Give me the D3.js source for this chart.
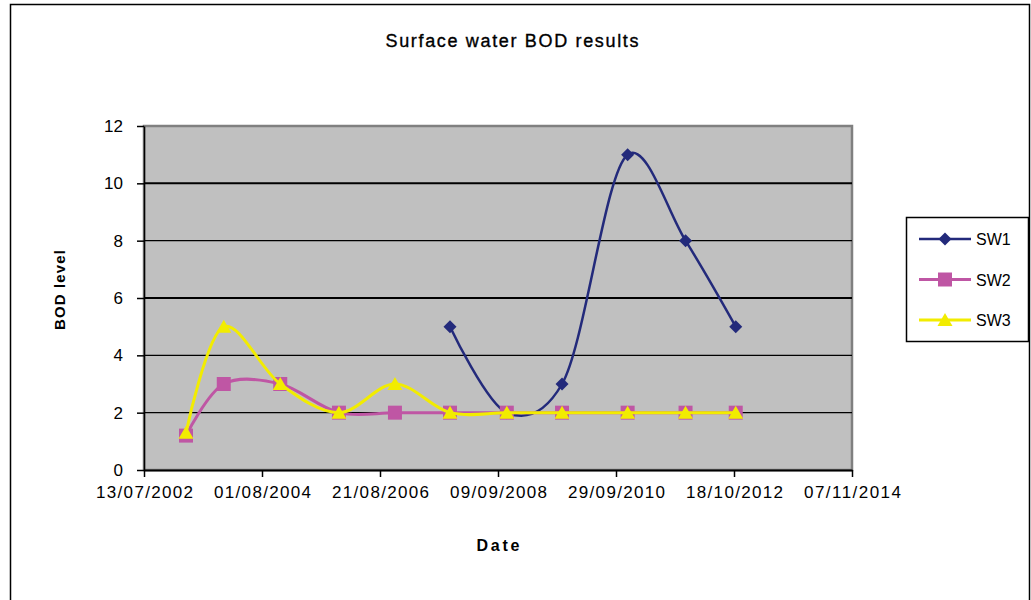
<!DOCTYPE html>
<html>
<head>
<meta charset="utf-8">
<script src="https://cdn.jsdelivr.net/npm/d3@7"></script>
<style>
  body { margin: 0; background: #fff; }
  text { font-family: "Liberation Sans", Arial, sans-serif; fill: #000; }
</style>
</head>
<body>
<div id="chart"></div>
<script>
// data
var dates = ["2003-04-06", "2003-12-02", "2004-11-25", "2005-12-03", "2006-11-24",
             "2007-11-09", "2008-11-04", "2009-10-21", "2010-12-12", "2011-12-15", "2012-10-29"];
var sw1 = [null, null, null, null, null, 5, 2, 3, 11, 8, 5];
var sw2 = [1.2, 3, 3, 2, 2, 2, 2, 2, 2, 2, 2];
var sw3 = [1.3, 5, 3, 2, 3, 2, 2, 2, 2, 2, 2];
var seriesNames = ["SW1", "SW2", "SW3"];
var xTicks = ["2002-07-13", "2004-08-01", "2006-08-21", "2008-09-09", "2010-09-29", "2012-10-18", "2014-11-07"];
var yTicks = [0, 2, 4, 6, 8, 10, 12];

var svgWidth = 1031;
var svgHeight = 600;
var margin = { top: 126, left: 144 };
var width = 708;
var height = 344;

var parse = d3.timeParse("%Y-%m-%d");
var fmt = d3.timeFormat("%d/%m/%Y");

var svg = d3.select("#chart").append("svg")
    .attr("width", svgWidth)
    .attr("height", svgHeight);

// chart area frame
svg.append("rect")
    .attr("x", 10.5).attr("y", 4.5)
    .attr("width", 1019).attr("height", 700)
    .attr("fill", "#fff")
    .attr("stroke", "#000")
    .attr("stroke-width", 1.5);

// title
svg.append("text")
    .attr("x", 512).attr("y", 47)
    .attr("text-anchor", "middle")
    .attr("font-size", "18px")
    .attr("stroke", "#000")
    .attr("stroke-width", 0.35)
    .attr("textLength", 253)
    .attr("lengthAdjust", "spacing")
    .text("Surface water BOD results");

var chartGroup = svg.append("g")
    .attr("transform", `translate(${margin.left}, ${margin.top})`);

var xScale = d3.scaleTime()
    .domain([parse(xTicks[0]), parse(xTicks[xTicks.length - 1])])
    .range([0, width]);

var yScale = d3.scaleLinear()
    .domain([0, 12])
    .range([height, 0]);

// plot area
chartGroup.append("rect")
    .attr("x", 0).attr("y", 0)
    .attr("width", width).attr("height", height)
    .attr("fill", "#c0c0c0")
    .attr("stroke", "#808080")
    .attr("stroke-width", 2.5);

// gridlines
chartGroup.selectAll(".grid")
    .data(yTicks.filter(d => d > 0 && d < 12))
    .enter()
    .append("line")
    .attr("x1", 0).attr("x2", width)
    .attr("y1", d => yScale(d)).attr("y2", d => yScale(d))
    .attr("stroke", "#000")
    .attr("stroke-width", d => (d == 6 || d == 10) ? 2 : 1.2);

// axes
var xAxis = d3.axisBottom(xScale)
    .tickValues(xTicks.map(parse))
    .tickFormat(fmt)
    .tickSize(7)
    .tickPadding(9)
    .tickSizeOuter(0);

var yAxis = d3.axisLeft(yScale)
    .tickValues(yTicks)
    .tickSize(7)
    .tickPadding(14)
    .tickSizeOuter(0);

var xg = chartGroup.append("g")
    .attr("transform", `translate(0, ${height})`)
    .call(xAxis);
xg.select(".domain").attr("stroke", "#000").attr("stroke-width", 2);
xg.selectAll(".tick line").attr("stroke", "#000").attr("stroke-width", 1.5);
xg.selectAll("text")
    .attr("font-size", "17px")
    .attr("font-family", "Liberation Sans, Arial, sans-serif")
    .attr("fill", "#000")
    .attr("textLength", 97)
    .attr("lengthAdjust", "spacing");

var yg = chartGroup.append("g").call(yAxis);
yg.select(".domain").attr("stroke", "#000").attr("stroke-width", 1.5);
yg.selectAll(".tick line").attr("stroke", "#000").attr("stroke-width", 1.5);
yg.selectAll("text")
    .attr("font-size", "17px")
    .attr("font-family", "Liberation Sans, Arial, sans-serif")
    .attr("fill", "#000");

// axis titles
svg.append("text")
    .attr("x", 498).attr("y", 551)
    .attr("text-anchor", "middle")
    .attr("font-size", "16px")
    .attr("font-weight", "bold")
    .attr("textLength", 43)
    .attr("lengthAdjust", "spacing")
    .text("Date");

svg.append("text")
    .attr("transform", "translate(65, 290) rotate(-90)")
    .attr("text-anchor", "middle")
    .attr("font-size", "15px")
    .attr("font-weight", "bold")
    .attr("textLength", 80)
    .attr("lengthAdjust", "spacing")
    .text("BOD level");

// series
var colors = ["#232a7b", "#bf56a4", "#f2ec00"];
var lineWidths = [2.5, 3, 3];
var allValues = [sw1, sw2, sw3];

var diamond = "M0,-6.5L6.5,0L0,6.5L-6.5,0Z";
var square = "M-7,-7H7V7H-7Z";
var triangle = "M0,-7L7.5,6H-7.5Z";
var shapes = [diamond, square, triangle];

// smoothed line, close to Excel's smoothing
var line = d3.line()
    .x(d => xScale(d.date))
    .y(d => yScale(d.v))
    .curve(d3.curveCatmullRom.alpha(0.2));

allValues.forEach(function(vals, i) {
    var pts = dates.map((d, j) => ({ date: parse(d), v: vals[j] }));
    var defined = pts.filter(p => p.v != null);

    chartGroup.append("path")
        .datum(defined)
        .attr("d", line)
        .attr("fill", "none")
        .attr("stroke", colors[i])
        .attr("stroke-width", lineWidths[i]);

    chartGroup.selectAll(".m" + i)
        .data(defined)
        .enter()
        .append("path")
        .classed("m" + i, true)
        .attr("transform", d => `translate(${xScale(d.date)}, ${yScale(d.v)})`)
        .attr("d", shapes[i])
        .attr("fill", colors[i]);
});

// legend
var legend = svg.append("g");
legend.append("rect")
    .attr("x", 906.5).attr("y", 217.5)
    .attr("width", 122).attr("height", 124)
    .attr("fill", "#fff")
    .attr("stroke", "#000")
    .attr("stroke-width", 1.5);

seriesNames.forEach(function(name, i) {
    var ly = 239 + i * 40.5;
    legend.append("line")
        .attr("x1", 919).attr("x2", 971)
        .attr("y1", ly).attr("y2", ly)
        .attr("stroke", colors[i])
        .attr("stroke-width", lineWidths[i]);
    legend.append("path")
        .attr("transform", `translate(945, ${ly})`)
        .attr("d", shapes[i])
        .attr("fill", colors[i]);
    legend.append("text")
        .attr("x", 976).attr("y", ly + 6)
        .attr("font-size", "16px")
        .text(name);
});
</script>
</body>
</html>
